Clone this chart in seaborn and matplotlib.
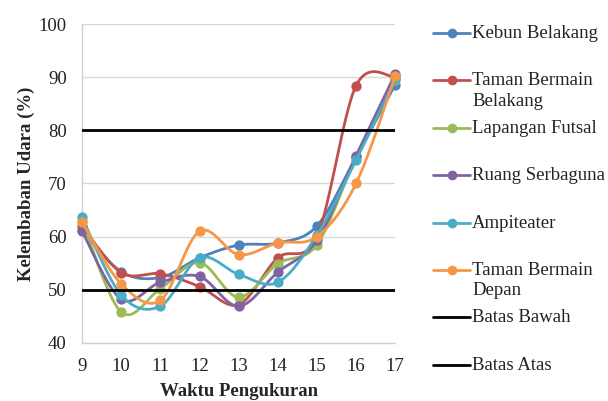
import numpy as np
import pandas as pd
import matplotlib
matplotlib.use("Agg")
import matplotlib.pyplot as plt
import seaborn as sns
from matplotlib.lines import Line2D

# Jam pengukuran
jam = [9, 10, 11, 12, 13, 14, 15, 16, 17]

# Kelembaban udara (%) per lokasi
kebun_belakang = [61.3, 53.4, 52.3, 56.0, 58.4, 58.8, 62.0, 75.0, 88.6]
taman_bermain_belakang = [62.0, 53.2, 53.0, 50.6, 47.2, 56.0, 60.0, 88.4, 90.0]
lapangan_futsal = [63.0, 45.8, 50.2, 55.1, 48.6, 54.9, 58.5, 75.0, 89.4]
ruang_serbaguna = [61.0, 48.2, 51.4, 52.5, 46.9, 53.3, 59.3, 75.2, 90.6]
ampiteater = [63.6, 49.0, 46.9, 56.0, 52.9, 51.4, 60.3, 74.4, 89.6]
taman_bermain_depan = [62.7, 51.1, 48.0, 61.0, 56.6, 58.8, 60.0, 70.0, 90.2]

batas_bawah = 50
batas_atas = 80

lokasi = ["Kebun Belakang", "Taman Bermain\nBelakang", "Lapangan Futsal",
          "Ruang Serbaguna", "Ampiteater", "Taman Bermain\nDepan"]
nilai = [kebun_belakang, taman_bermain_belakang, lapangan_futsal,
         ruang_serbaguna, ampiteater, taman_bermain_depan]
warna = ["#4F81BD", "#C0504D", "#9BBB59", "#8064A2", "#4BACC6", "#F79646"]
y_ticks = [40, 50, 60, 70, 80, 90, 100]


def smooth(xs, ys, n=30):
    """Catmull-Rom curve through the points (Excel style smoothed line)."""
    xs = np.asarray(xs, float)
    ys = np.asarray(ys, float)
    px = np.concatenate([[xs[0]], xs, [xs[-1]]])
    py = np.concatenate([[ys[0]], ys, [ys[-1]]])
    t = np.linspace(0, 1, n)
    out_x, out_y = [], []
    for i in range(1, len(px) - 2):
        for p, out in ((px, out_x), (py, out_y)):
            p0, p1, p2, p3 = p[i - 1], p[i], p[i + 1], p[i + 2]
            seg = 0.5 * (2 * p1 + (-p0 + p2) * t
                         + (2 * p0 - 5 * p1 + 4 * p2 - p3) * t ** 2
                         + (-p0 + 3 * p1 - 3 * p2 + p3) * t ** 3)
            out.extend(seg if i == 1 else seg[1:])
    return np.array(out_x), np.array(out_y)


titik = pd.DataFrame([(l, x, v) for l, vals in zip(lokasi, nilai)
                      for x, v in zip(jam, vals)],
                     columns=["lokasi", "jam", "kelembaban"])
kurva_rows = []
for l, vals in zip(lokasi, nilai):
    sx, sy = smooth(jam, vals)
    kurva_rows += [(l, i, a, b) for i, (a, b) in enumerate(zip(sx, sy))]
kurva = pd.DataFrame(kurva_rows, columns=["lokasi", "urut", "jam", "kelembaban"])

sns.set_theme(style="white")
plt.rcParams["font.family"] = ["Liberation Serif", "DejaVu Serif"]

FS = 13.5
fig = plt.figure(figsize=(6.08, 4.01), dpi=100)
ax = fig.add_axes([0.135, 0.145, 0.515, 0.795])

for l, c in zip(lokasi, warna):
    sns.lineplot(data=kurva[kurva.lokasi == l], x="jam", y="kelembaban",
                 sort=False, estimator=None, color=c, linewidth=2.0, ax=ax,
                 zorder=3)
    sns.scatterplot(data=titik[titik.lokasi == l], x="jam", y="kelembaban",
                    color=c, s=55, linewidth=0, ax=ax, zorder=3,
                    clip_on=False)

ax.axhline(batas_bawah, color="black", linewidth=2.0, zorder=4)
ax.axhline(batas_atas, color="black", linewidth=2.0, zorder=4)

ax.set_xlim(jam[0], jam[-1])
ax.set_ylim(y_ticks[0], y_ticks[-1])
ax.set_xticks(jam)
ax.set_yticks(y_ticks)
ax.tick_params(axis="both", length=0, labelsize=FS, colors="#222222")
ax.tick_params(axis="x", pad=11)
ax.tick_params(axis="y", pad=11)
ax.yaxis.grid(True, color="#D9D9D9", linewidth=1.0, zorder=0)
ax.xaxis.grid(False)
for s in ["top", "right"]:
    ax.spines[s].set_visible(False)
for s in ["left", "bottom"]:
    ax.spines[s].set_color("#D0D0D0")
    ax.spines[s].set_linewidth(1.0)

ax.set_xlabel("Waktu Pengukuran", fontsize=FS, fontweight="bold",
              labelpad=6)
ax.set_ylabel("Kelembaban Udara (%)", fontsize=FS, fontweight="bold",
              labelpad=3)

# Legend drawn row by row at the right
W, H = 608.0, 401.0
labels = lokasi + ["Batas Bawah", "Batas Atas"]
colors = warna + ["black", "black"]
for i, (lab, c) in enumerate(zip(labels, colors)):
    yp = 33 + i * 47.4
    yf = 1 - yp / H
    fig.add_artist(Line2D([433 / W, 470 / W], [yf, yf], color=c,
                          linewidth=2.0, transform=fig.transFigure))
    if i < 6:
        fig.add_artist(Line2D([451.5 / W], [yf], color=c, marker="o",
                              markersize=7, markeredgewidth=0,
                              transform=fig.transFigure))
    fig.text(472 / W, 1 - (yp - 8) / H, lab, fontsize=FS, va="top",
             ha="left", color="#222222", linespacing=1.25)

fig.savefig("out.png", dpi=100)
